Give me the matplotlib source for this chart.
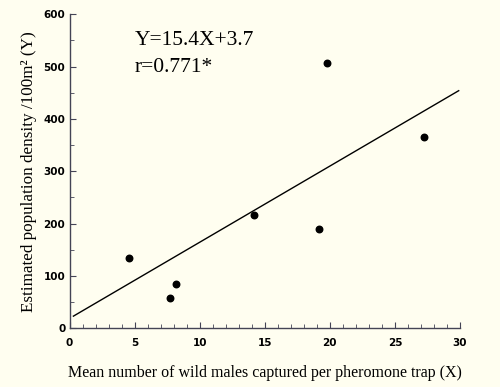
import matplotlib.pyplot as plt
import numpy as np

# data
males_per_trap = [4.6, 7.7, 8.2, 14.2, 19.2, 19.8, 27.2]
density = [134, 57, 84, 217, 190, 507, 366]

# fitted line as drawn
line_x = [0.3, 29.9]
line_y = [23, 454]

equation = "Y=15.4X+3.7"
corr = "r=0.771*"

bg = '#fffef0'

fig = plt.figure(figsize=(5, 3.87), dpi=100, facecolor=bg)
ax = fig.add_axes([0.139, 0.152, 0.781, 0.811])
ax.set_facecolor(bg)

ax.plot(line_x, line_y, color='black', linewidth=1.0)
ax.scatter(males_per_trap, density, s=22, color='black', zorder=3)

ax.set_xlim(0, 30)
ax.set_ylim(0, 600)
ax.set_xticks(np.arange(0, 31, 5))
ax.set_xticks(np.arange(0, 31, 1), minor=True)
ax.set_yticks(np.arange(0, 601, 100))
ax.set_yticks(np.arange(50, 600, 100), minor=True)

for s in ['top', 'right']:
    ax.spines[s].set_visible(False)
for s in ['left', 'bottom']:
    ax.spines[s].set_color('#444455')
    ax.spines[s].set_linewidth(1.0)

ax.tick_params(axis='both', which='both', direction='in', color='#444455')
ax.tick_params(axis='x', which='major', length=4, pad=7)
ax.tick_params(axis='x', which='minor', length=3)
ax.tick_params(axis='y', which='major', length=4, pad=3)
ax.tick_params(axis='y', which='minor', length=3)
for lab in ax.get_xticklabels() + ax.get_yticklabels():
    lab.set_fontsize(7.5)
    lab.set_fontweight('bold')

ax.set_xlabel('Mean number of wild males captured per pheromone trap (X)',
              family='Liberation Serif', fontsize=11.5, labelpad=12)
ax.set_ylabel('Estimated population density /100m\u00b2 (Y)',
              family='Liberation Serif', fontsize=12.3, labelpad=5)

ax.text(0.168, 0.915, equation, transform=ax.transAxes, family='Liberation Serif',
        fontsize=15.5, va='center')
ax.text(0.168, 0.83, corr, transform=ax.transAxes, family='Liberation Serif',
        fontsize=15.5, va='center')

fig.savefig('out.png', dpi=100, facecolor=bg)
